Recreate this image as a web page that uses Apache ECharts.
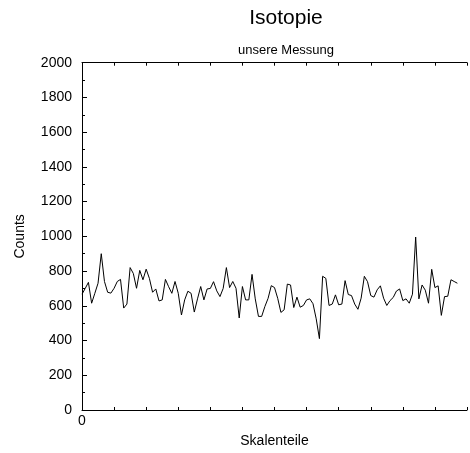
<!DOCTYPE html>
<html>
<head>
<meta charset="utf-8">
<script src="https://cdn.jsdelivr.net/npm/echarts@6/dist/echarts.min.js"></script>
<style>html,body{margin:0;padding:0;background:#fff}#c{width:470px;height:453px}</style>
</head>
<body>
<div id="c"></div>
<script>
const titleText = 'Isotopie';
const subtitleText = 'unsere Messung';
const xName = 'Skalenteile';
const yName = 'Counts';
const yTicks = [0, 200, 400, 600, 800, 1000, 1200, 1400, 1600, 1800, 2000];
const xTickLabels = ['0'];
const counts = [
  667, 700, 735, 615, 672, 730, 900, 740, 678, 673,
  701, 740, 752, 587, 610, 820, 786, 701, 804, 750,
  811, 758, 678, 697, 628, 634, 752, 710, 672, 740,
  672, 547, 634, 684, 672, 564, 640, 711, 634, 697,
  700, 739, 686, 653, 700, 820, 705, 740, 701, 530,
  711, 634, 634, 781, 640, 539, 539, 596, 643, 716,
  705, 643, 562, 577, 725, 720, 590, 650, 592, 602,
  634, 640, 612, 525, 411, 770, 758, 602, 610, 663,
  606, 610, 745, 665, 659, 610, 580, 644, 770, 739,
  659, 650, 692, 715, 644, 602, 630, 648, 685, 697,
  630, 640, 615, 667, 996, 640, 720, 690, 615, 810,
  705, 715, 545, 653, 655, 750, 740, 730
];
const channels = counts.map((_, i) => i);

const chart = echarts.init(document.getElementById('c'), null, {renderer: 'canvas'});
const font = 'Liberation Sans, Arial, Helvetica, sans-serif';
const axisLine = {show: true, lineStyle: {color: '#000', width: 1}};
chart.setOption({
  animation: false,
  backgroundColor: '#fff',
  textStyle: {fontFamily: font},
  title: [
    {text: titleText, left: 281, top: 3, textAlign: 'center',
     textStyle: {fontSize: 21, fontWeight: 'normal', color: '#000', fontFamily: font}},
    {text: subtitleText, left: 281, top: 39, textAlign: 'center',
     textStyle: {fontSize: 13, fontWeight: 'normal', color: '#000', fontFamily: font}}
  ],
  grid: {left: 82, top: 62.7, height: 350, width: 398.4, containLabel: false},
  xAxis: [
    {type: 'value', min: 0, max: 120, interval: 10, position: 'bottom',
     name: xName, nameLocation: 'middle', nameGap: 24,
     nameTextStyle: {fontSize: 14, color: '#000', fontFamily: font},
     axisLine: axisLine,
     axisTick: {show: true, inside: true, length: 3, lineStyle: {color: '#000'}},
     axisLabel: {fontSize: 14, color: '#000', margin: 4, fontFamily: font,
       formatter: v => (xTickLabels.indexOf(String(v)) >= 0 ? String(v) : '')},
     splitLine: {show: false}},
    {type: 'value', min: 0, max: 120, interval: 10, position: 'top',
     axisLine: axisLine,
     axisTick: {show: true, inside: true, length: 3, lineStyle: {color: '#000'}},
     axisLabel: {show: false}, splitLine: {show: false}}
  ],
  yAxis: [
    {type: 'value', min: yTicks[0], max: yTicks[yTicks.length - 1], interval: 200,
     name: yName, nameLocation: 'middle', nameGap: 55, nameRotate: 90,
     nameTextStyle: {fontSize: 14, color: '#000', fontFamily: font},
     axisLine: axisLine,
     axisTick: {show: true, inside: true, length: 5, lineStyle: {color: '#000'}},
     minorTick: {show: true, splitNumber: 2, length: 3, lineStyle: {color: '#000'}},
     axisLabel: {fontSize: 14, color: '#000', margin: 10, fontFamily: font,
       formatter: v => String(v)},
     splitLine: {show: false}}
  ],
  series: [{
    type: 'line',
    data: channels.map((c, i) => [c, counts[i]]),
    symbol: 'none',
    lineStyle: {color: '#000', width: 1},
    clip: true
  }]
});
</script>
</body>
</html>
